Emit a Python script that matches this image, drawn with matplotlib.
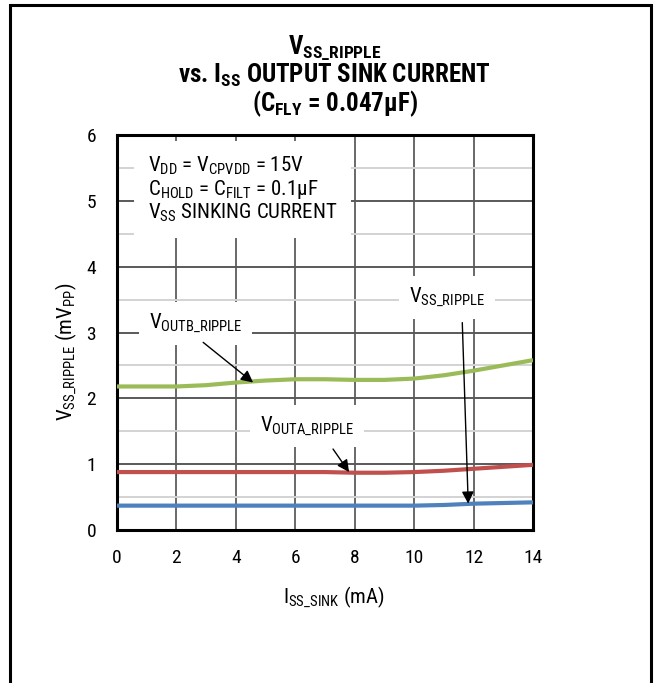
import matplotlib
matplotlib.use('Agg')
import matplotlib.pyplot as plt
from matplotlib.patches import Rectangle
from matplotlib.ticker import MultipleLocator

plt.rcParams['font.family'] = ['Roboto Condensed', 'Liberation Sans', 'DejaVu Sans']
plt.rcParams['mathtext.fontset'] = 'custom'
plt.rcParams['mathtext.rm'] = 'Roboto Condensed'
plt.rcParams['mathtext.it'] = 'Roboto Condensed:italic'
plt.rcParams['mathtext.bf'] = 'Roboto Condensed:bold'

# sink current (mA) and ripple (mVpp) for each output
current_ma = [0, 1, 2, 3, 4, 5, 6, 7, 8, 9, 10, 11, 12, 13, 14]
voutb_ripple = [2.18, 2.18, 2.18, 2.20, 2.24, 2.27, 2.29, 2.29, 2.28, 2.28, 2.30, 2.35, 2.42, 2.50, 2.58]
vouta_ripple = [0.88, 0.88, 0.88, 0.88, 0.88, 0.88, 0.88, 0.88, 0.87, 0.87, 0.88, 0.90, 0.93, 0.96, 0.99]
vss_ripple = [0.37, 0.37, 0.37, 0.37, 0.37, 0.37, 0.37, 0.37, 0.37, 0.37, 0.37, 0.38, 0.40, 0.41, 0.42]

x_ticks = [0, 2, 4, 6, 8, 10, 12, 14]
y_ticks = [0, 1, 2, 3, 4, 5, 6]

fig = plt.figure(figsize=(6.54, 6.83), dpi=100)
ax = fig.add_axes([117 / 654, 1 - 530 / 683, 416 / 654, 395 / 683])

# outer frame round the whole figure
fig.patches.append(Rectangle((10 / 654, -0.02), 641 / 654, 1.02 - 5 / 683,
                             transform=fig.transFigure, fill=False,
                             ec='black', lw=2.2, zorder=0))

ax.plot(current_ma, voutb_ripple, color='#9bbb59', lw=3, zorder=4, solid_capstyle='butt')
ax.plot(current_ma, vouta_ripple, color='#c0504d', lw=3, zorder=4, solid_capstyle='butt')
ax.plot(current_ma, vss_ripple, color='#4f81bd', lw=3, zorder=4, solid_capstyle='butt')

ax.set_xlim(0, 14)
ax.set_ylim(0, 6)
ax.set_xticks(x_ticks)
ax.set_yticks(y_ticks)
ax.yaxis.set_minor_locator(MultipleLocator(0.5))
ax.tick_params(which='both', length=0, labelsize=14)
ax.tick_params(axis='x', pad=14)
ax.tick_params(axis='y', pad=15)

ax.grid(which='major', axis='y', color='#595959', lw=1.4)
ax.grid(which='minor', axis='y', color='#d3d3d3', lw=1.4)
ax.grid(which='major', axis='x', color='#404040', lw=1.1)
ax.set_axisbelow(True)
for s in ax.spines.values():
    s.set_linewidth(2.2)

ax.set_xlabel(r'$\mathregular{I_{SS\_SINK}}$ (mA)', fontsize=15)
ax.set_ylabel(r'$\mathregular{V_{SS\_RIPPLE}}$ ($\mathregular{mV_{PP}}$)', fontsize=15)
ax.xaxis.set_label_coords(0.52, -0.138)
ax.yaxis.set_label_coords(-0.092, 0.45)

fig.text(0.512, 1 - 48 / 683, r'$\mathregular{V_{SS\_RIPPLE}}$', ha='center', va='center',
         fontsize=18, fontweight='bold')
fig.text(0.512, 1 - 75 / 683, r'vs. $\mathregular{I_{SS}}$ OUTPUT SINK CURRENT', ha='center', va='center',
         fontsize=18, fontweight='bold')
fig.text(0.512, 1 - 104 / 683, r'($\mathregular{C_{FLY}}$ = 0.047µF)', ha='center', va='center',
         fontsize=18, fontweight='bold')

ax.text(1.04, 5.70,
        r'$\mathregular{V_{DD}}$ = $\mathregular{V_{CPVDD}}$ = 15V' '\n'
        r'$\mathregular{C_{HOLD}}$ = $\mathregular{C_{FILT}}$ = 0.1µF' '\n'
        r'$\mathregular{V_{SS}}$ SINKING CURRENT',
        fontsize=15, va='top', ha='left', linespacing=1.05,
        bbox=dict(fc='white', ec='none', pad=10), zorder=3)

white = dict(fc='white', ec='none', pad=7)
arrow = dict(arrowstyle='-|>', color='black', lw=1, mutation_scale=18, shrinkA=0, shrinkB=0)

ax.text(2.65, 3.14, r'$\mathregular{V_{OUTB\_RIPPLE}}$', fontsize=15,
        ha='center', va='center', bbox=white, zorder=3)
ax.annotate('', xy=(4.58, 2.24), xytext=(2.9, 2.85), arrowprops=arrow, zorder=5)

ax.text(6.4, 1.58, r'$\mathregular{V_{OUTA\_RIPPLE}}$', fontsize=15,
        ha='center', va='center', bbox=white, zorder=3)
ax.annotate('', xy=(7.81, 0.88), xytext=(7.27, 1.23), arrowprops=arrow, zorder=5)

ax.text(11.1, 3.53, r'$\mathregular{V_{SS\_RIPPLE}}$', fontsize=15,
        ha='center', va='center', bbox=white, zorder=3)
ax.annotate('', xy=(11.82, 0.40), xytext=(11.62, 3.15), arrowprops=arrow, zorder=5)

fig.savefig('out.png', dpi=100)
